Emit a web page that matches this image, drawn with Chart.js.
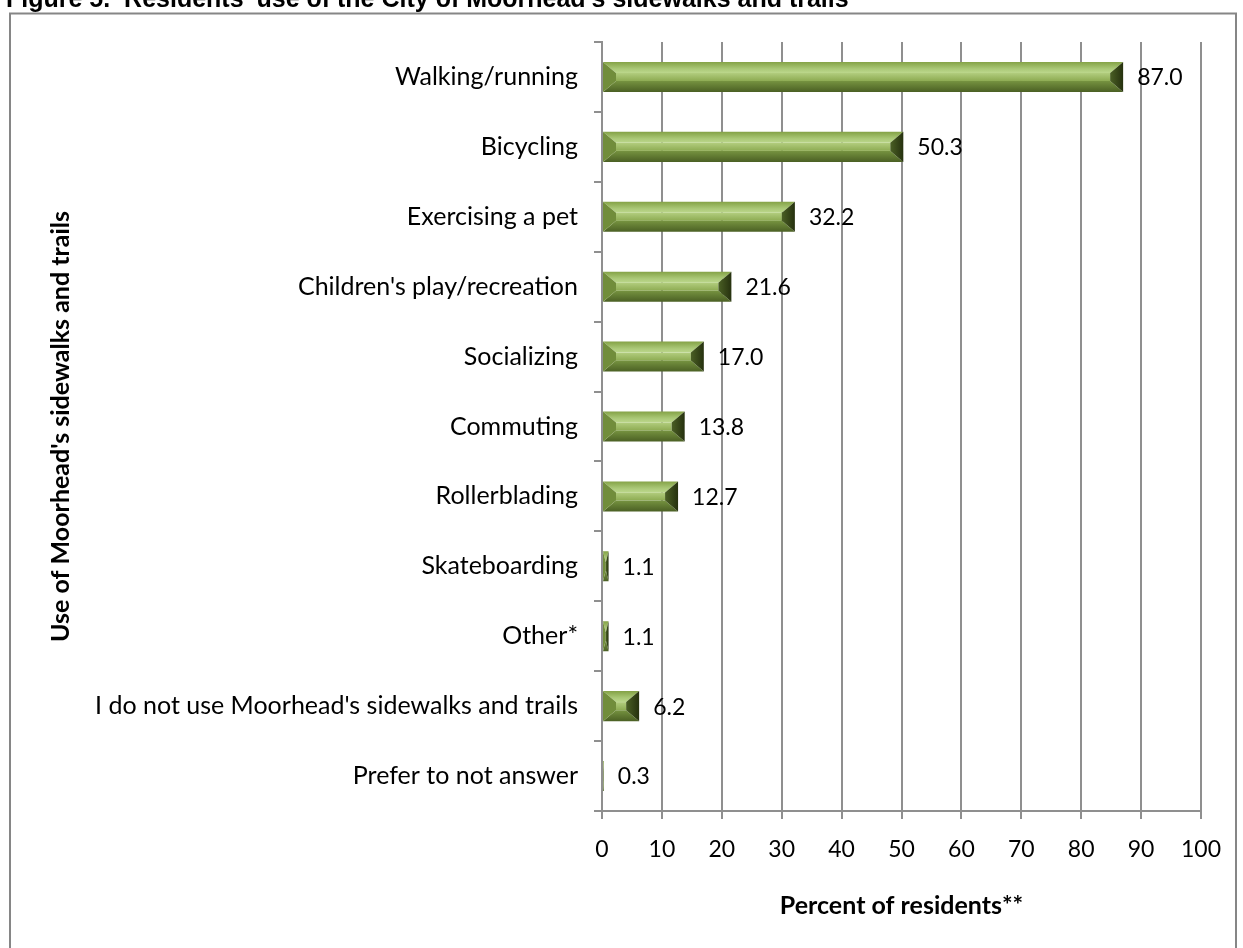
<!DOCTYPE html>
<html><head><meta charset="utf-8">
<script src="https://cdn.jsdelivr.net/npm/chart.js@4.4.1/dist/chart.umd.min.js"></script>
<style>html,body{margin:0;padding:0;background:#fff;overflow:hidden}canvas{display:block}</style>
</head><body>
<canvas id="c" width="1243" height="948"></canvas>
<script>
const categories = ["Walking/running","Bicycling","Exercising a pet","Children's play/recreation","Socializing","Commuting","Rollerblading","Skateboarding","Other*","I do not use Moorhead's sidewalks and trails","Prefer to not answer"];
const percentValues = [87.0, 50.3, 32.2, 21.6, 17.0, 13.8, 12.7, 1.1, 1.1, 6.2, 0.3];
const xTickValues = [0, 10, 20, 30, 40, 50, 60, 70, 80, 90, 100];
const chartTitle = "Figure 5.  Residents' use of the City of Moorhead's sidewalks and trails";
const yAxisTitle = "Use of Moorhead's sidewalks and trails";
const xAxisTitle = "Percent of residents**";

const LBL = 'Lato';
const GRID = '#8f8f8f';

function poly(ctx, pts, fill) {
  ctx.beginPath();
  ctx.moveTo(pts[0][0], pts[0][1]);
  for (let i = 1; i < pts.length; i++) ctx.lineTo(pts[i][0], pts[i][1]);
  ctx.closePath();
  ctx.fillStyle = fill;
  ctx.fill();
}

function drawBevelBar(ctx, x0, x1, yc, h) {
  const w = x1 - x0;
  if (w <= 0) return;
  const yT = yc - h / 2, yB = yc + h / 2;
  const bx = Math.min(13, w / 2), by = Math.min(11, h / 2);
  // face
  let g = ctx.createLinearGradient(0, yT + by, 0, yB - by);
  g.addColorStop(0, '#b2cd7e'); g.addColorStop(1, '#8dab52');
  ctx.fillStyle = g;
  ctx.fillRect(x0 + bx, yT + by, Math.max(0, w - 2 * bx), h - 2 * by);
  // top facet
  g = ctx.createLinearGradient(0, yT, 0, yT + by);
  g.addColorStop(0, '#84a246'); g.addColorStop(0.6, '#a9c775'); g.addColorStop(1, '#bcd78c');
  poly(ctx, [[x0, yT], [x1, yT], [x1 - bx, yT + by], [x0 + bx, yT + by]], g);
  // bottom facet
  g = ctx.createLinearGradient(0, yB - by, 0, yB);
  g.addColorStop(0, '#769340'); g.addColorStop(1, '#4b6024');
  poly(ctx, [[x0 + bx, yB - by], [x1 - bx, yB - by], [x1, yB], [x0, yB]], g);
  // left facet
  poly(ctx, [[x0, yT], [x0 + bx, yT + by], [x0 + bx, yB - by], [x0, yB]], '#718d3b');
  // right facet
  g = ctx.createLinearGradient(x1 - bx, 0, x1, 0);
  g.addColorStop(0, '#4a5f24'); g.addColorStop(1, '#26310f');
  poly(ctx, [[x1, yT], [x1, yB], [x1 - bx, yB - by], [x1 - bx, yT + by]], g);
}

const framePlugin = {
  id: 'frame',
  beforeDraw(chart) {
    const ctx = chart.ctx;
    ctx.save();
    ctx.fillStyle = '#fff';
    ctx.fillRect(0, 0, chart.width, chart.height);
    ctx.strokeStyle = '#868686';
    ctx.lineWidth = 2;
    ctx.strokeRect(10, 13.5, 1226, 960);
    ctx.fillStyle = '#000';
    ctx.font = 'bold 25px "Liberation Sans", Arial, sans-serif';
    ctx.textBaseline = 'alphabetic';
    ctx.textAlign = 'left';
    ctx.fillText(chartTitle, 6, 7);
    ctx.restore();
  }
};

const bevelPlugin = {
  id: 'bevel',
  afterDatasetsDraw(chart) {
    const ctx = chart.ctx;
    const meta = chart.getDatasetMeta(0);
    ctx.save();
    meta.data.forEach((el, i) => {
      const p = el.getProps(['x', 'y', 'base', 'height'], true);
      drawBevelBar(ctx, Math.min(p.base, p.x), Math.max(p.base, p.x), p.y, p.height);
      ctx.fillStyle = '#000';
      ctx.font = '23px ' + LBL;
      ctx.textAlign = 'left';
      ctx.textBaseline = 'middle';
      ctx.fillText(percentValues[i].toFixed(1), Math.max(p.base, p.x) + 14, p.y + 1);
    });
    ctx.restore();
  }
};

new Chart(document.getElementById('c'), {
  type: 'bar',
  data: {
    labels: categories,
    datasets: [{
      data: percentValues,
      backgroundColor: 'rgba(0,0,0,0)',
      borderWidth: 0,
      categoryPercentage: 1,
      barPercentage: 0.43
    }]
  },
  options: {
    indexAxis: 'y',
    responsive: false,
    animation: false,
    devicePixelRatio: 1,
    layout: { padding: { left: 0, top: 42, right: 42, bottom: 0 } },
    plugins: { legend: { display: false }, tooltip: { enabled: false }, title: { display: false } },
    scales: {
      x: {
        type: 'linear',
        position: 'bottom',
        min: xTickValues[0],
        max: xTickValues[xTickValues.length - 1],
        afterBuildTicks: (s) => { s.ticks = xTickValues.map(v => ({ value: v })); },
        ticks: { color: '#000', font: { family: LBL, size: 23 }, padding: 17, maxRotation: 0 },
        grid: { color: GRID, lineWidth: 2, tickLength: 8, drawTicks: true },
        border: { color: GRID, width: 2 },
        title: { display: true, text: xAxisTitle, color: '#000', font: { family: LBL, size: 25, weight: 'bold' }, padding: { top: 0, bottom: 27 } },
        afterFit: (s) => { s.height = 137; }
      },
      y: {
        type: 'category',
        position: 'left',
        z: 1,
        ticks: { color: '#000', font: { family: LBL, size: 25 }, padding: 16, autoSkip: false },
        grid: { drawOnChartArea: false, drawTicks: true, tickLength: 8, color: GRID, lineWidth: 2, offset: true },
        border: { color: GRID, width: 2 },
        title: { display: true, text: yAxisTitle, color: '#000', font: { family: LBL, size: 25, weight: 'bold' }, padding: { top: 46, bottom: 0 } },
        afterFit: (s) => { s.width = 602; }
      }
    }
  },
  plugins: [framePlugin, bevelPlugin]
});
</script>
</body></html>
